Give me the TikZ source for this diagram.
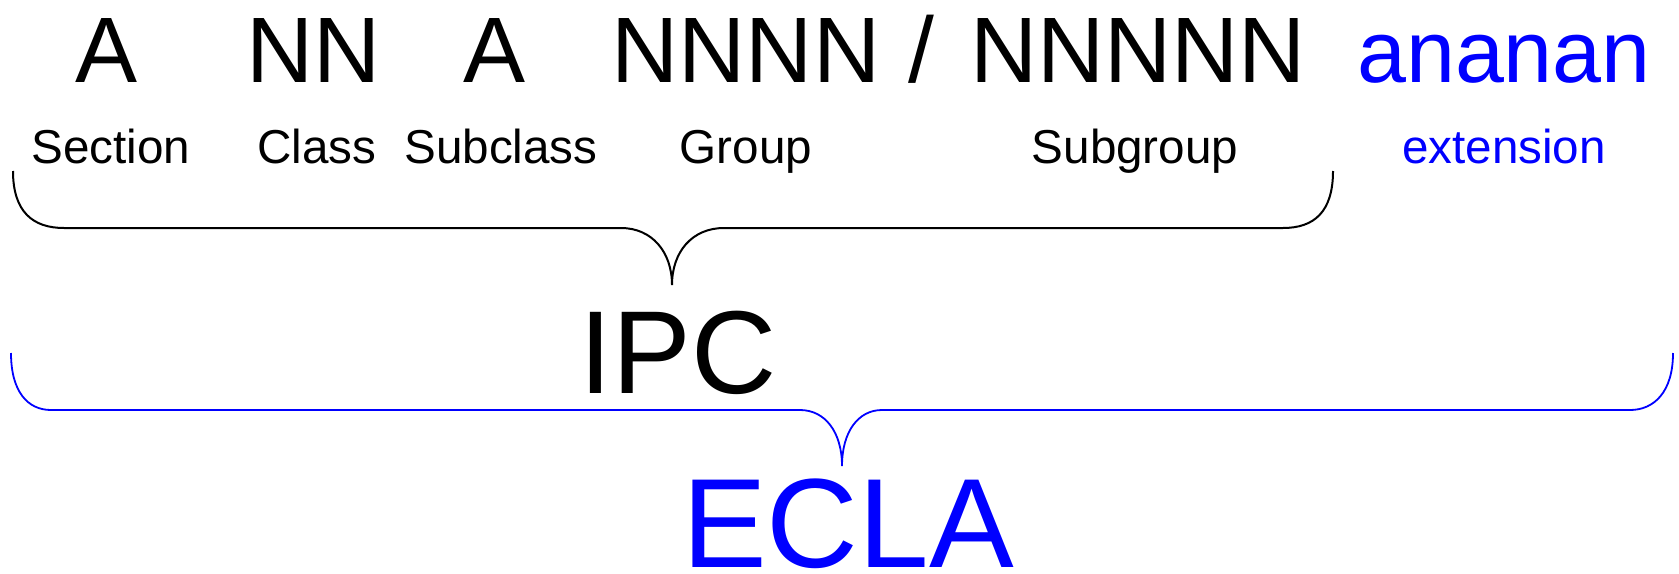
\documentclass[tikz,border=0pt]{standalone}
\usepackage{fontspec}
\setmainfont{Liberation Sans}
\definecolor{eclablue}{RGB}{0,0,255}

\begin{document}
\begin{tikzpicture}[x=0.5pt,y=-0.5pt,
    code/.style={anchor=base,inner sep=0pt,font=\fontsize{46.5}{46.5}\selectfont},
    part/.style={anchor=base,inner sep=0pt,font=\fontsize{23.8}{23.8}\selectfont},
    title/.style={anchor=base,inner sep=0pt,font=\fontsize{#1}{#1}\selectfont}]
  \useasboundingbox (0,0) rectangle (1679,573);
  % the code itself
  \node[code] (sec)  at (107,82)  {A};
  \node[code] (cls)  at (314,82)  {NN};
  \node[code] (scl)  at (495,82)  {A};
  \node[code] (grp)  at (746,82)  {NNNN};
  \node[code] (sep)  at (921,82)  {/};
  \node[code] (sgrp) at (1138,82) {NNNNN};
  \node[title=44,eclablue] (ext) at (1504,82) {ananan};
  % what each part is
  \node[part] (secl)  at (111,163)  {Section};
  \node[part] (clsl)  at (317,163)  {Class};
  \node[part] (scll)  at (501,163)  {Subclass};
  \node[part] (grpl)  at (746,163)  {Group};
  \node[part] (sgrpl) at (1135,163) {Subgroup};
  \node[part,eclablue] (extl) at (1504,163) {extension};
  % IPC brace
  \draw[line width=1pt] (13,171) .. controls (13,212) and (33,228) .. (64,228)
    -- (621,228) .. controls (652,228) and (672,252) .. (672,285)
    .. controls (672,252) and (692,228) .. (724,228)
    -- (1283,228) .. controls (1314,228) and (1333,212) .. (1333,171);
  \node[title=59] (ipc) at (678,393) {IPC};
  % ECLA brace
  \draw[line width=0.9pt,eclablue] (11,353) .. controls (11,392) and (28,410) .. (51,410)
    -- (800,410) .. controls (825,410) and (842,432) .. (842,466)
    .. controls (842,432) and (858,410) .. (882,410)
    -- (1630,410) .. controls (1654,410) and (1673,392) .. (1673,353);
  \node[title=63.5,eclablue] (ecla) at (848,567) {ECLA};
\end{tikzpicture}
\end{document}
